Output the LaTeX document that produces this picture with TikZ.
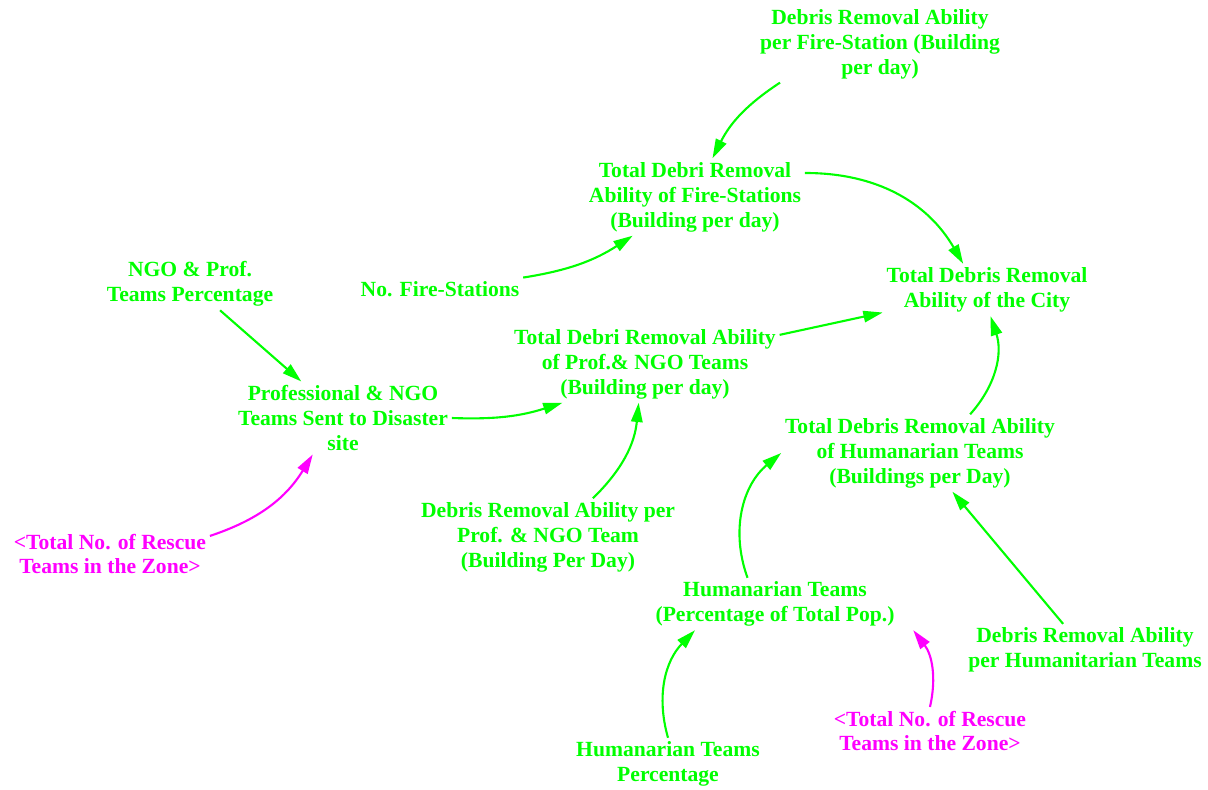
\documentclass[tikz,border=0pt]{standalone}
\usepackage{fontspec}
\setmainfont{Liberation Serif}
\usetikzlibrary{arrows.meta}

\definecolor{vargreen}{RGB}{0,255,0}
\definecolor{shadowpink}{RGB}{255,0,255}

\tikzset{
  var/.style={align=center, text=vargreen, inner sep=2pt,
    font=\bfseries\fontsize{12.3}{14.2}\selectfont},
  shadowvar/.style={var, text=shadowpink},
  link/.style={draw=vargreen, line width=1.2pt,
    -{Triangle[length=11pt,width=6.5pt]}},
  shadowlink/.style={link, draw=shadowpink}
}

\begin{document}
\begin{tikzpicture}[x=0.02cm, y=-0.02cm]
\useasboundingbox (0,0) rectangle (1208,790);

\node[var] (perstation) at (880,44)
  {Debris Removal Ability\\per Fire-Station (Building\\per day)};
\node[var] (firetotal) at (695,197)
  {Total Debri Removal\\Ability of Fire-Stations\\(Building per day)};
\node[var] (citytotal) at (987,290)
  {Total Debris Removal\\Ability of the City};
\node[var] (stations) at (440,289) {No. Fire-Stations};
\node[var] (ngopct) at (190,284) {NGO \& Prof.\\Teams Percentage};
\node[var] (ngototal) at (645,364)
  {Total Debri Removal Ability\\of Prof.\& NGO Teams\\(Building per day)};
\node[var] (ngosent) at (343,418)
  {Professional \& NGO\\Teams Sent to Disaster\\site};
\node[var] (humtotal) at (920,453)
  {Total Debris Removal Ability\\of Humanarian Teams\\(Buildings per Day)};
\node[shadowvar] (rescue1) at (110,554)
  {<Total No. of Rescue\\Teams in the Zone>};
\node[var] (perngo) at (548,537)
  {Debris Removal Ability per\\Prof. \& NGO Team\\(Building Per Day)};
\node[var] (humteams) at (775,604)
  {Humanarian Teams\\(Percentage of Total Pop.)};
\node[var] (perhum) at (1085,650)
  {Debris Removal Ability\\per Humanitarian Teams};
\node[shadowvar] (rescue2) at (930,731)
  {<Total No. of Rescue\\Teams in the Zone>};
\node[var] (humpct) at (668,764) {Humanarian Teams\\Percentage};

% links
\draw[link] ([xshift=-2cm]perstation.south) to[bend right=15] ([xshift=0.35cm]firetotal.north);
\draw[link] (firetotal) to[bend left=30] (citytotal);
\draw[link] (stations) to[bend right=12] (firetotal);
\draw[link] (ngopct) -- (ngosent);
\draw[link] (ngosent.east) to[bend right=10] ([xshift=-1.65cm]ngototal.south);
\draw[link] (ngototal) -- (citytotal);
\draw[link] (perngo) to[bend right=20] (ngototal);
\draw[shadowlink] (rescue1) to[bend right=20] (ngosent);
\draw[link] (humtotal) to[bend right=30] (citytotal);
\draw[link] ([xshift=-0.55cm]humteams.north) to[bend left=35] (humtotal.west);
\draw[link] (perhum) -- (humtotal);
\draw[link] (humpct.north) to[bend left=30] ([xshift=-1.6cm]humteams.south);
\draw[shadowlink] (rescue2.north) to[bend right=25] ([xshift=0.3cm]humteams.south east);
\end{tikzpicture}
\end{document}
